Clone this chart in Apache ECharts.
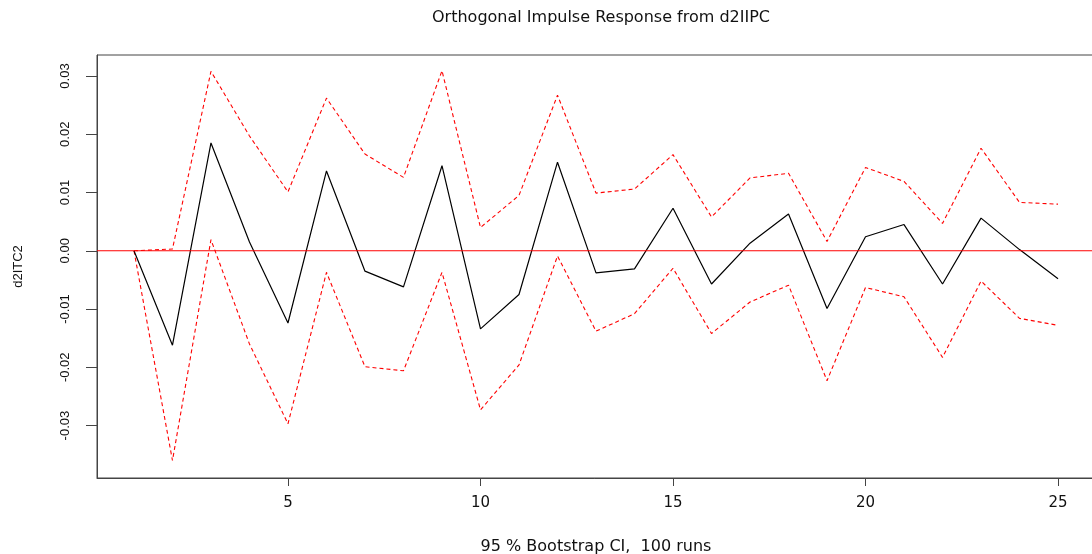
<!DOCTYPE html>
<html>
<head>
<meta charset="utf-8">
<script src="https://cdn.jsdelivr.net/npm/echarts@6/dist/echarts.min.js"></script>
<style>html,body{margin:0;padding:0;background:#fff}#c{width:1092px;height:554px}</style>
</head>
<body>
<div id="c"></div>
<script>
const steps = [1,2,3,4,5,6,7,8,9,10,11,12,13,14,15,16,17,18,19,20,21,22,23,24,25];
const irf = [0, -0.0162, 0.0185, 0.0015, -0.0124, 0.0137, -0.0035, -0.0062, 0.0146, -0.0134, -0.0075, 0.0152, -0.0038, -0.0031, 0.0073, -0.0057, 0.0013, 0.0063, -0.0099, 0.0024, 0.0045, -0.0057, 0.0056, 0.0002, -0.0048];
const upper = [0, 0.0003, 0.0308, 0.0197, 0.0101, 0.0262, 0.0166, 0.0126, 0.0309, 0.0040, 0.0095, 0.0267, 0.0099, 0.0106, 0.0165, 0.0058, 0.0125, 0.0133, 0.0016, 0.0143, 0.0119, 0.0047, 0.0176, 0.0083, 0.0080];
const lower = [0, -0.0360, 0.0019, -0.0160, -0.0297, -0.0037, -0.0199, -0.0206, -0.0037, -0.0273, -0.0196, -0.0009, -0.0138, -0.0108, -0.0030, -0.0142, -0.0088, -0.0059, -0.0223, -0.0063, -0.0079, -0.0183, -0.0052, -0.0116, -0.0128];
const zeroLevel = 0;
const xMin = 0.04, xMax = 25.96;
const yMin = -0.0390, yMax = 0.0336;
const xTicks = [5, 10, 15, 20, 25];
const yTicks = [-0.03, -0.02, -0.01, 0, 0.01, 0.02, 0.03];
const yTickLabels = ['-0.03', '-0.02', '-0.01', '0.00', '0.01', '0.02', '0.03'];
const titleText = 'Orthogonal Impulse Response from d2IIPC';
const xName = '95 % Bootstrap CI,  100 runs';
const yName = 'd2ITC2';

const pair = arr => steps.map((s, i) => [s, arr[i]]);
const chart = echarts.init(document.getElementById('c'), null, {renderer: 'canvas'});
chart.setOption({
  animation: false,
  backgroundColor: '#fff',
  title: {
    text: titleText,
    left: 596, textAlign: 'center', top: 5,
    textStyle: {fontFamily: 'DejaVu Sans', fontSize: 16, fontWeight: 'normal', color: '#111'}
  },
  grid: {left: 97, right: -3, top: 55, bottom: 76, show: true, borderColor: '#444', borderWidth: 1, containLabel: false, outerBoundsMode: 'none'},
  xAxis: {
    type: 'value', min: xMin, max: xMax,
    name: xName, nameLocation: 'middle', nameGap: 61,
    nameTextStyle: {fontFamily: 'DejaVu Sans', fontSize: 16, color: '#111'},
    axisLine: {show: true, onZero: false, lineStyle: {color: '#444', width: 1}},
    axisTick: {show: true, length: 8, customValues: xTicks, lineStyle: {color: '#444'}},
    axisLabel: {customValues: xTicks, margin: 18, fontFamily: 'DejaVu Sans', fontSize: 15, color: '#111'},
    splitLine: {show: false}
  },
  yAxis: {
    type: 'value', min: yMin, max: yMax,
    name: yName, nameLocation: 'middle', nameGap: 72, nameRotate: 90,
    nameTextStyle: {fontFamily: 'Liberation Sans', fontSize: 13, color: '#111'},
    axisLine: {show: true, onZero: false, lineStyle: {color: '#444', width: 1}},
    axisTick: {show: true, length: 11, customValues: yTicks, lineStyle: {color: '#444'}},
    axisLabel: {
      customValues: yTicks, rotate: 90, margin: 25,
      fontFamily: 'Liberation Sans', fontSize: 13, color: '#111',
      formatter: v => { const i = yTicks.findIndex(t => Math.abs(t - v) < 1e-9); return i >= 0 ? yTickLabels[i] : ''; }
    },
    splitLine: {show: false}
  },
  series: [
    {type: 'line', data: pair(upper), symbol: 'none', lineStyle: {color: '#ff0000', width: 1.1, type: [4, 3]}, z: 2},
    {type: 'line', data: pair(lower), symbol: 'none', lineStyle: {color: '#ff0000', width: 1.1, type: [4, 3]}, z: 2},
    {type: 'line', data: pair(irf), symbol: 'none', lineStyle: {color: '#000', width: 1.2}, z: 3},
    {type: 'line', data: [[xMin, zeroLevel], [xMax, zeroLevel]], symbol: 'none', silent: true, lineStyle: {color: '#ff0000', width: 1.2}, z: 4}
  ]
});
</script>
</body>
</html>
